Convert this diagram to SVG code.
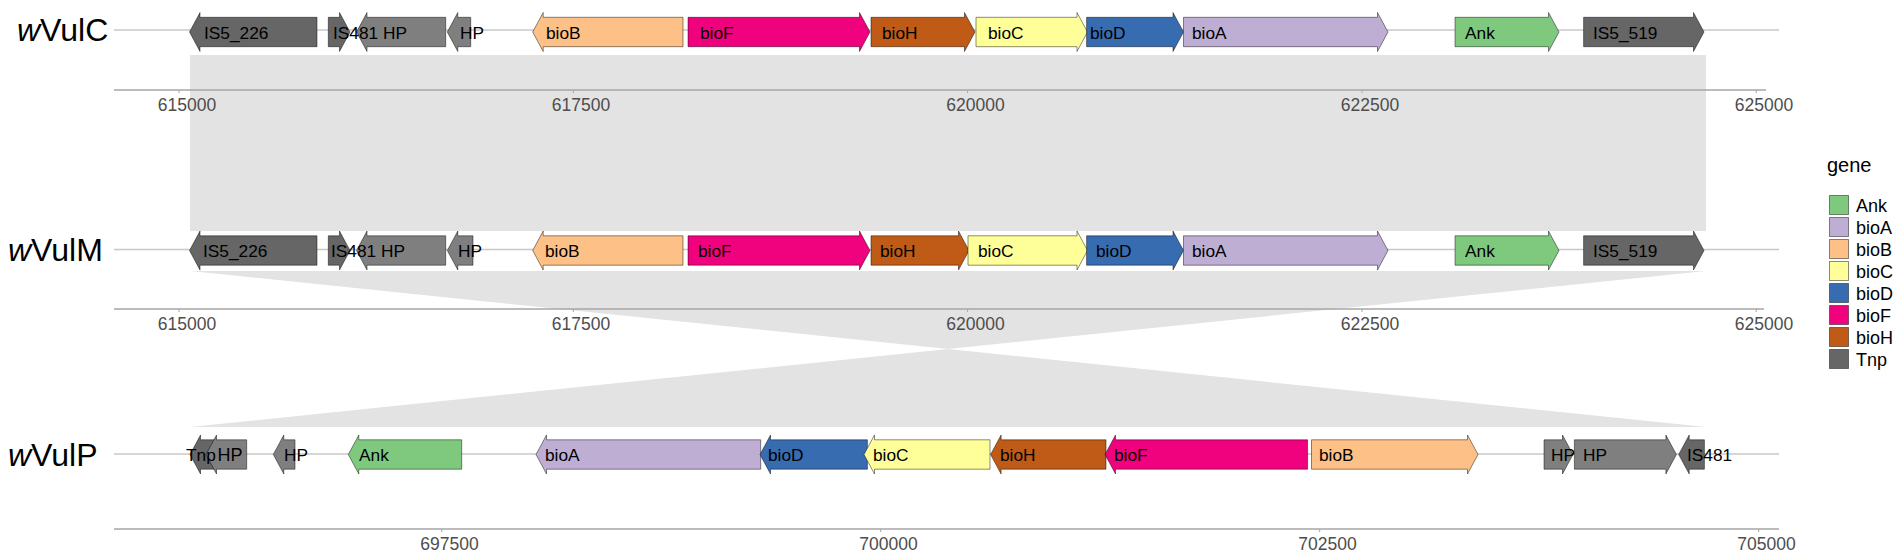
<svg xmlns="http://www.w3.org/2000/svg" width="1901" height="559" viewBox="0 0 1901 559">
<style>
text{font-family:"Liberation Sans",Arial,sans-serif}
.title{font-size:32px;fill:#000}
.gl{font-size:17.3px;fill:#000}
.ax{font-size:17.5px;fill:#4D4D4D;text-anchor:middle}
.track{stroke:#C8C8C8;stroke-width:1.5;fill:none}
.axis{stroke:#A6A6A6;stroke-width:1.5;fill:none}
.tick{stroke:#A6A6A6;stroke-width:1;fill:none}
.rib{fill:#E3E3E3;stroke:none}
.g{stroke:#000;stroke-opacity:0.45;stroke-width:1}
.Ank{fill:#7FC97F}.bioA{fill:#BEAED4}.bioB{fill:#FDC086}.bioC{fill:#FFFF99}.bioD{fill:#386CB0}.bioF{fill:#F0027F}.bioH{fill:#BF5B17}.Tnp{fill:#666666}.NA{fill:#7F7F7F}
.leg{font-size:18px;fill:#000}
.legt{font-size:20px;fill:#000}
</style>
<rect width="1901" height="559" fill="#FFFFFF"/>

<g id="connectors">
<polygon class="rib" points="190,55 1706,55 1706,231 190,231"/>
<polygon class="rib" points="190,271 1706,271 190,427 1706,427"/>
</g>

<g id="axes">
<line class="axis" x1="114" y1="90" x2="1766" y2="90"/>
<path class="tick" d="M179,90v3M573.3,90v3M967.6,90v3M1362,90v3M1756.2,90v3"/>
<text class="ax" x="187" y="110.5">615000</text>
<text class="ax" x="581" y="110.5">617500</text>
<text class="ax" x="975.5" y="110.5">620000</text>
<text class="ax" x="1370" y="110.5">622500</text>
<text class="ax" x="1764" y="110.5">625000</text>
<line class="axis" x1="114" y1="309" x2="1764" y2="309"/>
<path class="tick" d="M179,309v3M573.3,309v3M967.6,309v3M1362,309v3M1756.2,309v3"/>
<text class="ax" x="187" y="329.5">615000</text>
<text class="ax" x="581" y="329.5">617500</text>
<text class="ax" x="975.5" y="329.5">620000</text>
<text class="ax" x="1370" y="329.5">622500</text>
<text class="ax" x="1764" y="329.5">625000</text>
<line class="axis" x1="114" y1="529" x2="1779" y2="529"/>
<path class="tick" d="M441.7,529v3M880.7,529v3M1319.7,529v3M1758.7,529v3"/>
<text class="ax" x="449.5" y="549.5">697500</text>
<text class="ax" x="888.5" y="549.5">700000</text>
<text class="ax" x="1327.5" y="549.5">702500</text>
<text class="ax" x="1766.5" y="549.5">705000</text>
</g>

<g id="track-wVulC">
<text class="title" x="17" y="40.5"><tspan font-style="italic">w</tspan>VulC</text>
<line class="track" x1="114" y1="30" x2="1779" y2="30"/>
<g id="C-IS5_226"><polygon class="g Tnp" points="189.5,32 200,12.5 200,17.3 317,17.3 317,46.7 200,46.7 200,51.5"/><text class="gl" x="204" y="38.5">IS5_226</text></g>
<g id="C-IS481"><polygon class="g Tnp" points="328.3,17.3 339.5,17.3 339.5,12.5 350,32 339.5,51.5 339.5,46.7 328.3,46.7"/></g>
<g id="C-HP1"><polygon class="g NA" points="356.5,32 367,12.5 367,17.3 445.7,17.3 445.7,46.7 367,46.7 367,51.5"/></g>
<g id="C-HP2"><polygon class="g NA" points="447.3,32 457.8,12.5 457.8,17.3 470.7,17.3 470.7,46.7 457.8,46.7 457.8,51.5"/></g>
<g id="C-bioB"><polygon class="g bioB" points="532.7,32 543.2,12.5 543.2,17.3 683,17.3 683,46.7 543.2,46.7 543.2,51.5"/><text class="gl" x="546" y="38.5">bioB</text></g>
<g id="C-bioF"><polygon class="g bioF" points="688,17.3 859.5,17.3 859.5,12.5 870,32 859.5,51.5 859.5,46.7 688,46.7"/><text class="gl" x="700" y="38.5">bioF</text></g>
<g id="C-bioH"><polygon class="g bioH" points="871,17.3 964.5,17.3 964.5,12.5 975,32 964.5,51.5 964.5,46.7 871,46.7"/><text class="gl" x="882" y="38.5">bioH</text></g>
<g id="C-bioC"><polygon class="g bioC" points="976,17.3 1077,17.3 1077,12.5 1087.5,32 1077,51.5 1077,46.7 976,46.7"/><text class="gl" x="988" y="38.5">bioC</text></g>
<g id="C-bioD"><polygon class="g bioD" points="1086.6,17.3 1173,17.3 1173,12.5 1183.5,32 1173,51.5 1173,46.7 1086.6,46.7"/><text class="gl" x="1090" y="38.5">bioD</text></g>
<g id="C-bioA"><polygon class="g bioA" points="1183.5,17.3 1377.5,17.3 1377.5,12.5 1388,32 1377.5,51.5 1377.5,46.7 1183.5,46.7"/><text class="gl" x="1192" y="38.5">bioA</text></g>
<g id="C-Ank"><polygon class="g Ank" points="1455,17.3 1548.5,17.3 1548.5,12.5 1559,32 1548.5,51.5 1548.5,46.7 1455,46.7"/><text class="gl" x="1465" y="38.5">Ank</text></g>
<g id="C-IS5_519"><polygon class="g Tnp" points="1583.6,17.3 1693.5,17.3 1693.5,12.5 1704,32 1693.5,51.5 1693.5,46.7 1583.6,46.7"/><text class="gl" x="1593" y="38.5">IS5_519</text></g>
<text class="gl" x="333" y="38.5">IS481</text>
<text class="gl" x="383" y="38.5">HP</text>
<text class="gl" x="460" y="38.5">HP</text>
</g>

<g id="track-wVulM">
<text class="title" x="8" y="261"><tspan font-style="italic">w</tspan>VulM</text>
<line class="track" x1="114" y1="249.5" x2="1779" y2="249.5"/>
<g id="M-IS5_226"><polygon class="g Tnp" points="189.5,250.5 200,231 200,235.8 317,235.8 317,265.2 200,265.2 200,270"/><text class="gl" x="203" y="257">IS5_226</text></g>
<g id="M-IS481"><polygon class="g Tnp" points="328.3,235.8 339.5,235.8 339.5,231 350,250.5 339.5,270 339.5,265.2 328.3,265.2"/></g>
<g id="M-HP1"><polygon class="g NA" points="356.5,250.5 367,231 367,235.8 445.7,235.8 445.7,265.2 367,265.2 367,270"/></g>
<g id="M-HP2"><polygon class="g NA" points="447.3,250.5 457.8,231 457.8,235.8 473,235.8 473,265.2 457.8,265.2 457.8,270"/></g>
<g id="M-bioB"><polygon class="g bioB" points="532.7,250.5 543.2,231 543.2,235.8 683,235.8 683,265.2 543.2,265.2 543.2,270"/><text class="gl" x="545" y="257">bioB</text></g>
<g id="M-bioF"><polygon class="g bioF" points="688,235.8 859.5,235.8 859.5,231 870,250.5 859.5,270 859.5,265.2 688,265.2"/><text class="gl" x="698" y="257">bioF</text></g>
<g id="M-bioH"><polygon class="g bioH" points="871,235.8 958.5,235.8 958.5,231 969,250.5 958.5,270 958.5,265.2 871,265.2"/><text class="gl" x="880" y="257">bioH</text></g>
<g id="M-bioC"><polygon class="g bioC" points="968,235.8 1077,235.8 1077,231 1087.5,250.5 1077,270 1077,265.2 968,265.2"/><text class="gl" x="978" y="257">bioC</text></g>
<g id="M-bioD"><polygon class="g bioD" points="1086.6,235.8 1173,235.8 1173,231 1183.5,250.5 1173,270 1173,265.2 1086.6,265.2"/><text class="gl" x="1096" y="257">bioD</text></g>
<g id="M-bioA"><polygon class="g bioA" points="1183.5,235.8 1377.5,235.8 1377.5,231 1388,250.5 1377.5,270 1377.5,265.2 1183.5,265.2"/><text class="gl" x="1192" y="257">bioA</text></g>
<g id="M-Ank"><polygon class="g Ank" points="1455,235.8 1548.5,235.8 1548.5,231 1559,250.5 1548.5,270 1548.5,265.2 1455,265.2"/><text class="gl" x="1465" y="257">Ank</text></g>
<g id="M-IS5_519"><polygon class="g Tnp" points="1583.6,235.8 1693.5,235.8 1693.5,231 1704,250.5 1693.5,270 1693.5,265.2 1583.6,265.2"/><text class="gl" x="1593" y="257">IS5_519</text></g>
<text class="gl" x="331" y="257">IS481</text>
<text class="gl" x="381" y="257">HP</text>
<text class="gl" x="458" y="257">HP</text>
</g>

<g id="track-wVulP">
<text class="title" x="8" y="466"><tspan font-style="italic">w</tspan>VulP</text>
<line class="track" x1="114" y1="454" x2="1779" y2="454"/>
<g id="P-Tnp"><polygon class="g Tnp" points="190,454.5 200.5,435 200.5,439.8 215,439.8 215,469.2 200.5,469.2 200.5,474"/></g>
<g id="P-HP1"><polygon class="g NA" points="206,454.5 216.5,435 216.5,439.8 246.7,439.8 246.7,469.2 216.5,469.2 216.5,474"/></g>
<g id="P-HP2"><polygon class="g NA" points="273.3,454.5 283.8,435 283.8,439.8 295,439.8 295,469.2 283.8,469.2 283.8,474"/></g>
<g id="P-Ank"><polygon class="g Ank" points="348.3,454.5 358.8,435 358.8,439.8 461.7,439.8 461.7,469.2 358.8,469.2 358.8,474"/><text class="gl" x="359" y="461">Ank</text></g>
<g id="P-bioA"><polygon class="g bioA" points="536,454.5 546.5,435 546.5,439.8 760.7,439.8 760.7,469.2 546.5,469.2 546.5,474"/><text class="gl" x="545" y="461">bioA</text></g>
<g id="P-bioD"><polygon class="g bioD" points="760,454.5 770.5,435 770.5,439.8 867.4,439.8 867.4,469.2 770.5,469.2 770.5,474"/><text class="gl" x="768" y="461">bioD</text></g>
<g id="P-bioC"><polygon class="g bioC" points="864,454.5 874.5,435 874.5,439.8 990,439.8 990,469.2 874.5,469.2 874.5,474"/><text class="gl" x="873" y="461">bioC</text></g>
<g id="P-bioH"><polygon class="g bioH" points="990.6,454.5 1001.1,435 1001.1,439.8 1106,439.8 1106,469.2 1001.1,469.2 1001.1,474"/><text class="gl" x="1000" y="461">bioH</text></g>
<g id="P-bioF"><polygon class="g bioF" points="1105,454.5 1115.5,435 1115.5,439.8 1307.6,439.8 1307.6,469.2 1115.5,469.2 1115.5,474"/><text class="gl" x="1114" y="461">bioF</text></g>
<g id="P-bioB"><polygon class="g bioB" points="1311.5,439.8 1467.5,439.8 1467.5,435 1478,454.5 1467.5,474 1467.5,469.2 1311.5,469.2"/><text class="gl" x="1319" y="461">bioB</text></g>
<g id="P-HP3"><polygon class="g NA" points="1544,439.8 1562.5,439.8 1562.5,435 1573,454.5 1562.5,474 1562.5,469.2 1544,469.2"/></g>
<g id="P-HP4"><polygon class="g NA" points="1574.4,439.8 1665.9,439.8 1665.9,435 1676.4,454.5 1665.9,474 1665.9,469.2 1574.4,469.2"/></g>
<g id="P-IS481"><polygon class="g Tnp" points="1678.7,454.5 1689.2,435 1689.2,439.8 1704.4,439.8 1704.4,469.2 1689.2,469.2 1689.2,474"/></g>
<text class="gl" x="186" y="461">Tnp</text>
<text class="gl" x="217.5" y="461" style="font-size:18px">HP</text>
<text class="gl" x="284" y="461">HP</text>
<text class="gl" x="1551" y="461">HP</text>
<text class="gl" x="1583" y="461">HP</text>
<text class="gl" x="1687" y="461">IS481</text>
</g>

<g id="legend">
<text class="legt" x="1827" y="172">gene</text>
<rect class="g Ank" x="1829.5" y="195.5" width="19" height="19"/><text class="leg" x="1856" y="211.5">Ank</text>
<rect class="g bioA" x="1829.5" y="217.5" width="19" height="19"/><text class="leg" x="1856" y="233.5">bioA</text>
<rect class="g bioB" x="1829.5" y="239.5" width="19" height="19"/><text class="leg" x="1856" y="255.5">bioB</text>
<rect class="g bioC" x="1829.5" y="261.5" width="19" height="19"/><text class="leg" x="1856" y="277.5">bioC</text>
<rect class="g bioD" x="1829.5" y="283.5" width="19" height="19"/><text class="leg" x="1856" y="299.5">bioD</text>
<rect class="g bioF" x="1829.5" y="305.5" width="19" height="19"/><text class="leg" x="1856" y="321.5">bioF</text>
<rect class="g bioH" x="1829.5" y="327.5" width="19" height="19"/><text class="leg" x="1856" y="343.5">bioH</text>
<rect class="g Tnp" x="1829.5" y="349.5" width="19" height="19"/><text class="leg" x="1856" y="365.5">Tnp</text>
</g>
</svg>
